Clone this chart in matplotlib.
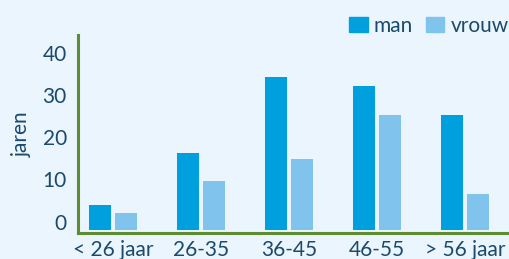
import matplotlib
matplotlib.use("Agg")
import matplotlib.pyplot as plt
from matplotlib.patches import Patch
import numpy as np

# data
categories = ["< 26 jaar", "26-35", "36-45", "46-55", "> 56 jaar"]
man = [4.0, 16.3, 34.2, 32.1, 25.3]
vrouw = [2.0, 9.6, 14.8, 25.3, 6.6]
yticks = [0, 10, 20, 30, 40]

BG = "#EAF5FD"
TXT = "#1B4A6B"
GREEN = "#5E8C31"
C_MAN = "#009FDE"
C_VROUW = "#80C4EE"
BASELINE = -2  # bars in the source start slightly below the 0 label

plt.rcParams["font.family"] = ["Lato", "DejaVu Sans"]

fig = plt.figure(figsize=(5.09, 2.59), dpi=100, facecolor=BG)
ax = fig.add_axes([78 / 509, 1 - 233 / 259, 1 - 78 / 509, (233 - 35) / 259])
ax.set_facecolor(BG)

x = np.arange(len(categories))
w = 0.25
off = 0.145
ax.bar(x - off, np.array(man) - BASELINE, w, bottom=BASELINE, color=C_MAN)
ax.bar(x + off, np.array(vrouw) - BASELINE, w, bottom=BASELINE, color=C_VROUW)

ax.set_xlim(-0.40, 4.50)
ax.set_ylim(-2.7, 44.2)

ax.set_xticks(x)
ax.set_xticklabels(categories)
ax.set_yticks(yticks)
ax.tick_params(length=0, labelsize=15, labelcolor=TXT)
ax.tick_params(axis="x", pad=5)
ax.tick_params(axis="y", pad=8)

for s in ["top", "right"]:
    ax.spines[s].set_visible(False)
for s in ["left", "bottom"]:
    ax.spines[s].set_color(GREEN)
    ax.spines[s].set_linewidth(2.2)

ax.set_ylabel("jaren", color=TXT, fontsize=15, labelpad=8)

handles = [Patch(color=C_MAN, label="man"), Patch(color=C_VROUW, label="vrouw")]
fig.legend(handles=handles, loc="upper right", bbox_to_anchor=(1.03, 1.0),
           ncol=2, frameon=False, fontsize=15, labelcolor=TXT,
           handlelength=0.88, handleheight=0.72, handletextpad=0.3,
           columnspacing=0.62, borderaxespad=0.35)

fig.savefig("out.png", dpi=100, facecolor=BG)
